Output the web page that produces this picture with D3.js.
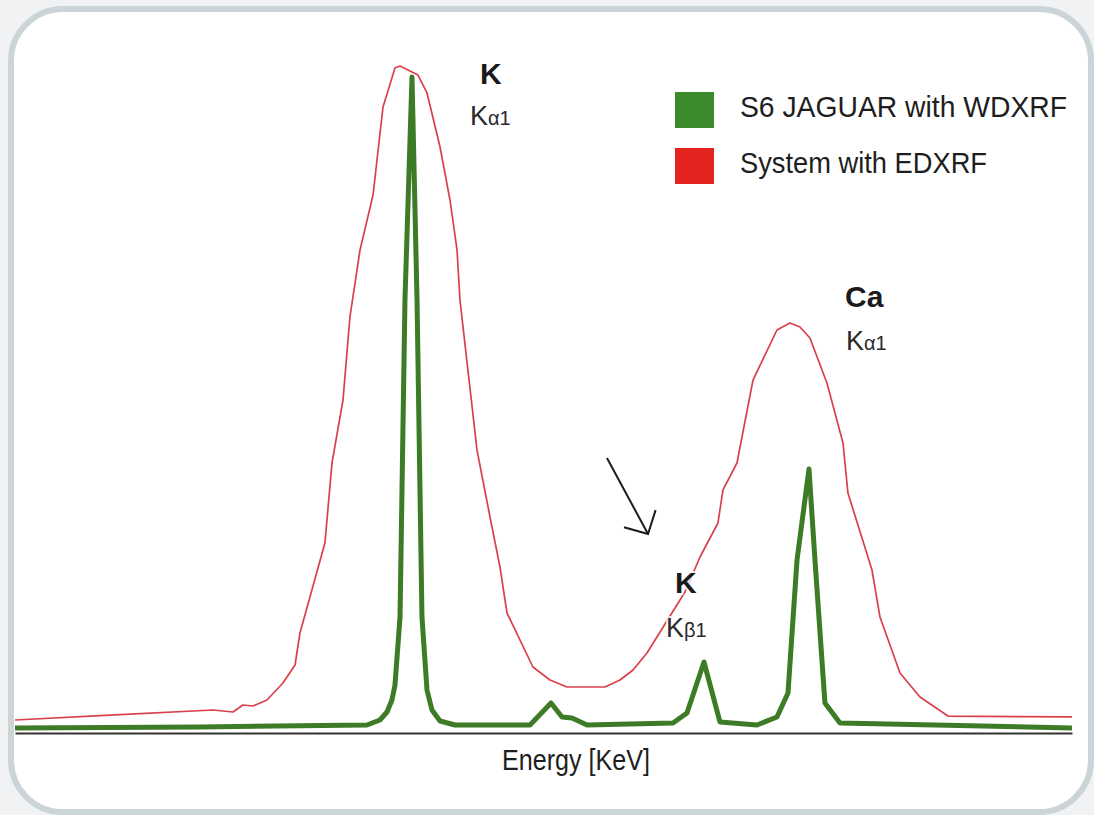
<!DOCTYPE html>
<html><head><meta charset="utf-8">
<script src="https://cdn.jsdelivr.net/npm/d3@7"></script>
<style>html,body{margin:0;padding:0;background:#f0f2f3;} svg{display:block}</style>
</head><body><svg id="c" width="1094" height="815"></svg>
<script>
// ---- data (energy in keV, intensity in relative units) ----
const energyEDX = [2.9400,3.0305,3.1286,3.1476,3.1571,3.1667,3.1800,3.1952,3.2067,3.2114,3.2352,3.2419,3.2524,3.2590,3.2686,3.2810,3.2905,3.3019,3.3067,3.3238,3.3324,3.3448,3.3543,3.3610,3.3638,3.3800,3.3924,3.4019,3.4086,3.4333,3.4495,3.4657,3.5019,3.5162,3.5286,3.5419,3.5781,3.5924,3.6095,3.6143,3.6276,3.6429,3.6657,3.6781,3.6876,3.6971,3.7133,3.7286,3.7333,3.7562,3.7638,3.7829,3.8019,3.8286,3.9467];
const intensityEDX = [1.95,2.69,3.44,3.14,4.19,4.04,4.94,7.49,10.18,14.97,28.44,40.42,49.85,62.28,72.31,80.54,93.71,99.55,99.85,98.50,95.81,87.72,79.79,72.31,64.82,42.37,32.34,24.85,17.96,9.88,7.93,6.89,6.89,7.93,9.43,11.98,21.11,26.35,31.44,36.38,40.42,52.84,60.33,61.38,60.78,59.13,52.40,43.41,35.93,24.40,17.37,8.98,5.39,2.54,2.40];
const energyWDX = [2.9400,3.1162,3.2752,3.2876,3.2943,3.2990,3.3019,3.3067,3.3114,3.3181,3.3229,3.3276,3.3324,3.3371,3.3448,3.3590,3.4305,3.4505,3.4610,3.4705,3.4848,3.5667,3.5800,3.5962,3.6114,3.6467,3.6657,3.6762,3.6848,3.6962,3.7019,3.7114,3.7257,3.9467];
const intensityWDX = [0.75,0.90,1.20,1.95,3.14,4.94,7.19,17.37,64.82,98.20,64.82,17.37,6.44,3.44,1.80,1.20,1.20,4.49,2.40,2.25,1.20,1.50,2.99,10.63,1.65,1.20,2.40,5.99,25.90,39.52,25.90,4.49,1.50,0.75];
const seriesNames = ["S6 JAGUAR with WDXRF", "System with EDXRF"];
const lineColors = ["#3d7b26", "#d8414a"];
const legendColors = ["#3b8a2c", "#e3241f"];
const labelElements = ["K", "K", "Ca"];
const labelLines = ["α1", "β1", "α1"];
const labelEnergy = [3.3829, 3.5686, 3.7305];
const labelIntensity = [97.16, 20.96, 63.77];
const arrowEnergy = [3.5038, 3.5429];
const arrowIntensity = [41.17, 29.79];
const axisTitle = "Energy [KeV]";

// ---- layout ----
const svg = d3.select("#c");
const FONT = "'Liberation Sans', Arial, Helvetica, sans-serif";
const NARROW = "'Liberation Sans Narrow', 'Arial Narrow', 'Liberation Sans', Arial, sans-serif";
svg.append("rect").attr("x", 0).attr("y", 0).attr("width", 1094).attr("height", 815).attr("fill", "#f0f2f3");
svg.append("rect").attr("x", 11).attr("y", 9).attr("width", 1080).attr("height", 803)
  .attr("rx", 52).attr("ry", 52).attr("fill", "#ffffff").attr("stroke", "#cbd5d8").attr("stroke-width", 6);

const x = d3.scaleLinear().domain([2.94, 3.9467]).range([15, 1072]);
const y = d3.scaleLinear().domain([0, 100]).range([733, 65]);

// axis (line only)
const axis = d3.axisBottom(x).tickValues([]).tickSizeOuter(0);
const gAxis = svg.append("g").attr("transform", `translate(0,${y(0)})`).call(axis);
gAxis.select(".domain").attr("stroke", "#333").attr("stroke-width", 2.2);

const line = d3.line().x(d => x(d[0])).y(d => y(d[1]));
const edx = energyEDX.map((e, i) => [e, intensityEDX[i]]);
const wdx = energyWDX.map((e, i) => [e, intensityWDX[i]]);

svg.append("path").datum(edx).attr("d", line).attr("fill", "none")
  .attr("stroke", lineColors[1]).attr("stroke-width", 1.7).attr("stroke-linejoin", "round");
svg.append("path").datum(wdx).attr("d", line).attr("fill", "none")
  .attr("stroke", lineColors[0]).attr("stroke-width", 5).attr("stroke-linejoin", "round");

// peak labels
const lineOffsets = [[-10, 41], [-9, 44], [1, 43]];
labelElements.forEach((el, i) => {
  const px = x(labelEnergy[i]), py = y(labelIntensity[i]);
  svg.append("text").attr("x", px).attr("y", py).text(el)
    .attr("font-family", FONT).attr("font-weight", "bold").attr("font-size", 30)
    .attr("fill", "#1a1a1a").attr("stroke", "#fff").attr("stroke-width", 4)
    .attr("stroke-opacity", 0.8).attr("paint-order", "stroke");
  const t = svg.append("text").attr("x", px + lineOffsets[i][0]).attr("y", py + lineOffsets[i][1])
    .attr("font-family", FONT).attr("fill", "#2a2a2a")
    .attr("stroke", "#fff").attr("stroke-width", 4).attr("stroke-opacity", 0.8).attr("paint-order", "stroke");
  t.append("tspan").attr("font-size", 27).text("K");
  t.append("tspan").attr("font-size", 20).text(labelLines[i]);
});

// arrow annotation
const ax0 = x(arrowEnergy[0]), ay0 = y(arrowIntensity[0]);
const ax1 = x(arrowEnergy[1]), ay1 = y(arrowIntensity[1]);
svg.append("line").attr("x1", ax0).attr("y1", ay0).attr("x2", ax1).attr("y2", ay1)
  .attr("stroke", "#1c1c1c").attr("stroke-width", 2);
const ang = Math.atan2(ay1 - ay0, ax1 - ax0) + Math.PI;
const spread = 46 * Math.PI / 180, len = 25;
const w1 = [ax1 + len * Math.cos(ang - spread), ay1 + len * Math.sin(ang - spread)];
const w2 = [ax1 + len * Math.cos(ang + spread), ay1 + len * Math.sin(ang + spread)];
svg.append("path").attr("d", `M${w1[0]},${w1[1]}L${ax1},${ay1}L${w2[0]},${w2[1]}`)
  .attr("fill", "none").attr("stroke", "#1c1c1c").attr("stroke-width", 2).attr("stroke-linejoin", "miter");

// legend
const legendY = [92, 148];
const legendTextW = [327, 247];
seriesNames.forEach((n, i) => {
  svg.append("rect").attr("x", 675).attr("y", legendY[i]).attr("width", 39).attr("height", 36)
    .attr("fill", legendColors[i]);
  svg.append("text").attr("x", 740).attr("y", legendY[i] + 25).text(n)
    .attr("font-family", NARROW).attr("font-size", 30).attr("fill", "#1e1e1e")
    .attr("textLength", legendTextW[i]).attr("lengthAdjust", "spacingAndGlyphs");
});

// axis title
svg.append("text").attr("x", 502).attr("y", 770).text(axisTitle)
  .attr("font-family", NARROW).attr("font-size", 29).attr("fill", "#1e1e1e")
  .attr("textLength", 148).attr("lengthAdjust", "spacingAndGlyphs");
</script>
</body></html>
